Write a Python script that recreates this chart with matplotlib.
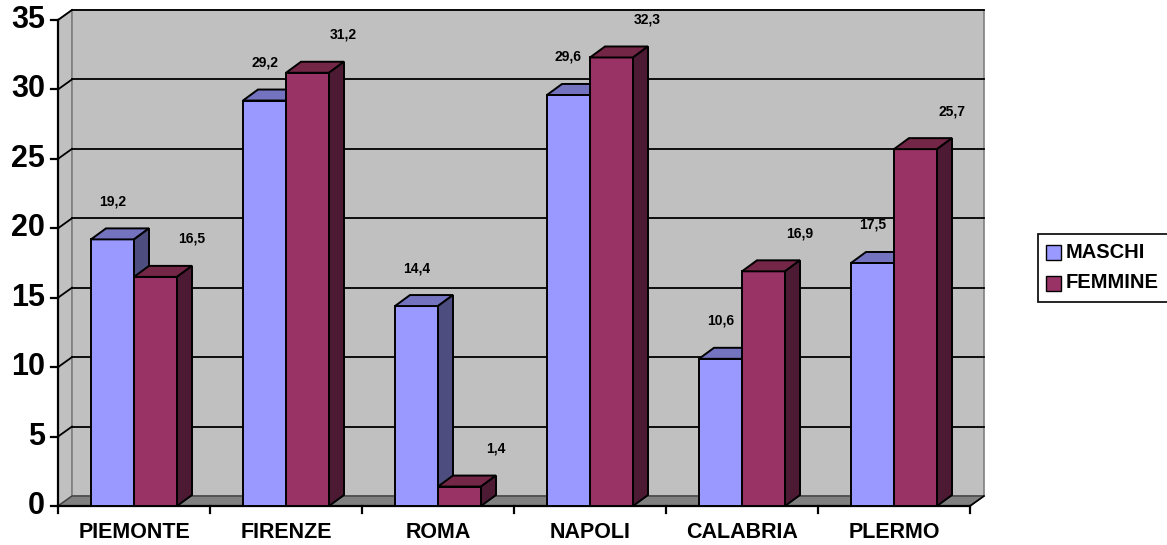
import matplotlib
matplotlib.use("Agg")
import matplotlib.pyplot as plt
from matplotlib.patches import Polygon, Rectangle
from matplotlib.lines import Line2D

categories = ["PIEMONTE", "FIRENZE", "ROMA", "NAPOLI", "CALABRIA", "PLERMO"]
maschi = [19.2, 29.2, 14.4, 29.6, 10.6, 17.5]
femmine = [16.5, 31.2, 1.4, 32.3, 16.9, 25.7]
series_names = ["MASCHI", "FEMMINE"]
yticks = [0, 5, 10, 15, 20, 25, 30, 35]

plt.rcParams['font.family'] = ['Liberation Sans', 'DejaVu Sans']

W, H = 1167, 545
fig = plt.figure(figsize=(W / 100, H / 100), dpi=100)
L, R, T, B = 58, 985, 10, 506
ax = fig.add_axes([L / W, (H - B) / H, (R - L) / W, (B - T) / H])
px_per_cat = 152.0
px_per_unit = 13.886
ax.set_xlim(0, (R - L) / px_per_cat)
ax.set_ylim(0, (B - T) / px_per_unit)
ax.axis('off')

n = len(categories)
ymax = 35
dx, dy = 14 / px_per_cat, 10 / px_per_unit      # wall depth
bdx, bdy = 15 / px_per_cat, 11 / px_per_unit    # bar depth

wall = '#C0C0C0'
# side wall
ax.add_patch(Polygon([(0, 0), (dx, dy), (dx, ymax + dy), (0, ymax)], closed=True,
                     facecolor=wall, edgecolor='#808080', lw=1.2, clip_on=False, zorder=1))
# back wall
ax.add_patch(Rectangle((dx, dy), n, ymax, facecolor=wall, edgecolor='#808080', lw=1.2,
                       clip_on=False, zorder=1))
# floor
ax.add_patch(Polygon([(0, 0), (n, 0), (n + dx, dy), (dx, dy)], closed=True,
                     facecolor='#808080', edgecolor='#404040', lw=1.0, clip_on=False, zorder=2))
# gridlines
for v in yticks[1:]:
    ax.add_line(Line2D([dx, n + dx], [v + dy, v + dy], color='black', lw=1.3, zorder=2, clip_on=False))
    ax.add_line(Line2D([0, dx], [v, v + dy], color='black', lw=1.3, zorder=2, clip_on=False))

# axes lines
ax.add_line(Line2D([0, 0], [0, ymax], color='black', lw=1.6, zorder=5, clip_on=False))
ax.add_line(Line2D([0, n], [0, 0], color='black', lw=1.6, zorder=5, clip_on=False))
ax.add_line(Line2D([n, n + dx], [0, dy], color='black', lw=1.2, zorder=5, clip_on=False))
tick_len_y = 7 / px_per_unit
for v in yticks:
    ax.add_line(Line2D([-7 / px_per_cat, 0], [v, v], color='black', lw=1.6, zorder=5, clip_on=False))
    ax.text(-13 / px_per_cat, v, str(v), ha='right', va='center', fontsize=22,
            fontweight='bold', clip_on=False)
for i in range(n + 1):
    ax.add_line(Line2D([i, i], [0, -tick_len_y], color='black', lw=1.6, zorder=5, clip_on=False))
for i, c in enumerate(categories):
    ax.text(i + 0.5, -27 / px_per_unit, c, ha='center', va='center', fontsize=15.5,
            fontweight='bold', clip_on=False)

colors = {
    0: ('#9999FF', '#7373C0', '#4D4D80'),
    1: ('#993366', '#732646', '#4D1A33'),
}
bw = 0.283
offsets = [0.217, 0.5]
label_dx = [0.0, 0.237]

def draw_bar(x0, h, cols, z):
    front, top, side = cols
    ax.add_patch(Rectangle((x0, 0), bw, h, facecolor=front, edgecolor='black', lw=1.4,
                           zorder=z, clip_on=False))
    ax.add_patch(Polygon([(x0, h), (x0 + bdx, h + bdy), (x0 + bw + bdx, h + bdy), (x0 + bw, h)],
                         closed=True, facecolor=top, edgecolor='black', lw=1.4, zorder=z, clip_on=False))
    ax.add_patch(Polygon([(x0 + bw, 0), (x0 + bw + bdx, bdy), (x0 + bw + bdx, h + bdy), (x0 + bw, h)],
                         closed=True, facecolor=side, edgecolor='black', lw=1.4, zorder=z, clip_on=False))

z = 10
for i in range(n):
    for s, vals in enumerate([maschi, femmine]):
        x0 = i + offsets[s]
        draw_bar(x0, vals[i], colors[s], z)
        z += 1
        ax.text(x0 + bw / 2 + label_dx[s], vals[i] + 38 / px_per_unit,
                f"{vals[i]:.1f}".replace('.', ','), ha='center', va='center',
                fontsize=10, fontweight='bold', zorder=100, clip_on=False)

# legend
lax_left, lax_top, lax_w, lax_h = 1038, 234, 135, 68
fig.patches.append(Rectangle((lax_left / W, (H - lax_top - lax_h) / H), lax_w / W, lax_h / H,
                             transform=fig.transFigure, facecolor='white', edgecolor='black',
                             lw=1.2, zorder=1))
for s, name in enumerate(series_names):
    cy = 252 + s * 31
    sq = 15
    fig.patches.append(Rectangle((1046 / W, (H - cy - sq / 2) / H), sq / W, sq / H,
                                 transform=fig.transFigure, facecolor=colors[s][0],
                                 edgecolor='black', lw=1.0, zorder=2))
    fig.text(1066 / W, (H - cy) / H, name, ha='left', va='center', fontsize=14.5,
             fontweight='bold')

fig.savefig('out.png', dpi=100)
